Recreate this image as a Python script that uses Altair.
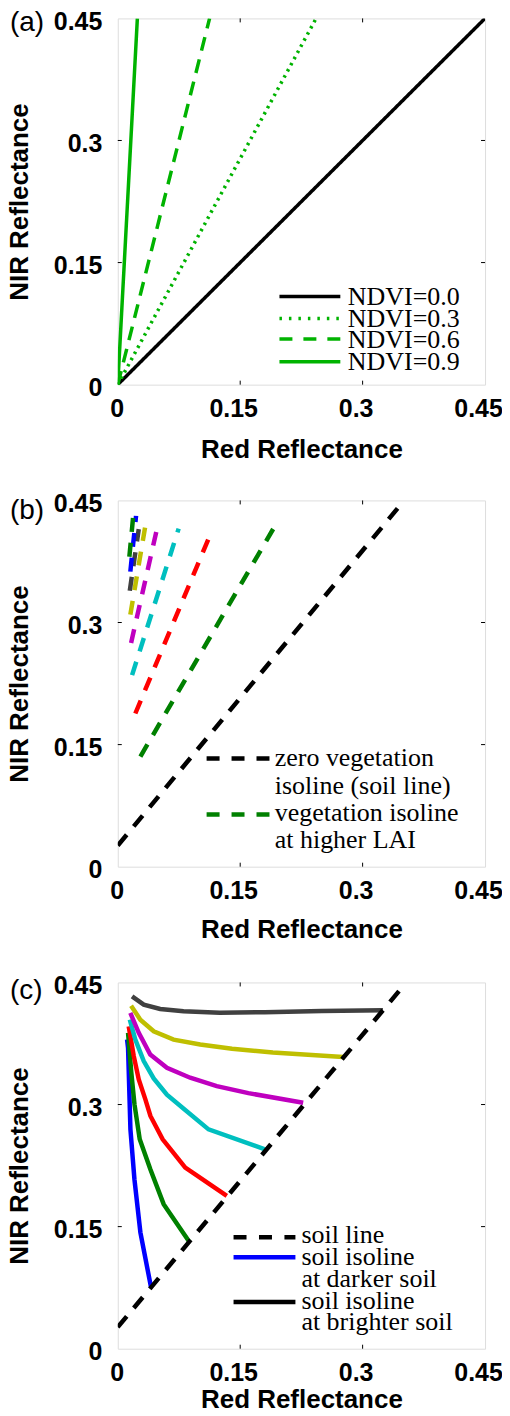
import altair as alt
import pandas as pd

# ---------------- data ----------------
TICK_VALUES = [0, 0.15, 0.3, 0.45]
INNER_TICKS = [0.15, 0.3]
X_TITLE = "Red Reflectance"
Y_TITLE = "NIR Reflectance"

# (a) NDVI isolines
NDVI_LABELS = ["NDVI=0.0", "NDVI=0.3", "NDVI=0.6", "NDVI=0.9"]
NDVI_RED = [[0.0, 0.45], [0.0, 0.243], [0.0, 0.1125], [0.0, 0.024]]
NDVI_NIR = [[0.0, 0.45], [0.0, 0.45], [0.0, 0.45], [0.0, 0.45]]

# (b) soil line and vegetation isolines
SOIL_B_RED = [0.0, 0.346]
SOIL_B_NIR = [0.026, 0.444]
VEG_IDS = ["v1", "v2", "v3", "v4", "v5", "v6", "v7", "v8"]
VEG_RED_START = [0.0277, 0.0215, 0.0175, 0.0163, 0.0154, 0.0147, 0.0154, 0.0142]
VEG_NIR_START = [0.1353, 0.1882, 0.2354, 0.2749, 0.3096, 0.3390, 0.3625, 0.3808]
VEG_RED_END = [0.1907, 0.1113, 0.0746, 0.0472, 0.0334, 0.0257, 0.0224, 0.0187]
VEG_NIR_END = [0.4154, 0.4032, 0.4154, 0.4114, 0.4166, 0.4147, 0.4310, 0.4285]
LEGEND_B = ["zero vegetation", "isoline (soil line)", "vegetation isoline", "at higher LAI"]

# (c) soil line and soil isolines
SOIL_C_RED = [0.0, 0.346]
SOIL_C_NIR = [0.0265, 0.441]
ISO_IDS = ["s1", "s2", "s3", "s4", "s5", "s6", "s7"]
ISO_RED = [
    [0.0114, 0.0126, 0.0155, 0.0204, 0.0277, 0.0407],
    [0.0126, 0.0165, 0.0205, 0.0269, 0.0399, 0.0562, 0.0880],
    [0.0134, 0.0196, 0.0257, 0.0338, 0.0400, 0.0550, 0.0827, 0.1336],
    [0.0147, 0.0215, 0.0318, 0.0440, 0.0602, 0.0830, 0.1112, 0.1804],
    [0.0154, 0.0257, 0.0398, 0.0602, 0.0887, 0.1213, 0.1600, 0.2272],
    [0.0163, 0.0276, 0.0440, 0.0684, 0.1010, 0.1400, 0.1900, 0.2761],
    [0.0175, 0.0318, 0.0520, 0.0806, 0.1250, 0.1800, 0.2500, 0.3249],
]
ISO_NIR = [
    [0.3798, 0.3696, 0.2695, 0.2083, 0.1430, 0.0756],
    [0.3880, 0.3400, 0.3000, 0.2573, 0.2205, 0.1776, 0.1307],
    [0.3961, 0.3594, 0.3308, 0.3063, 0.2860, 0.2573, 0.2225, 0.1878],
    [0.4043, 0.3798, 0.3533, 0.3320, 0.3120, 0.2930, 0.2695, 0.2450],
    [0.4125, 0.3880, 0.3614, 0.3451, 0.3329, 0.3226, 0.3140, 0.3022],
    [0.4215, 0.4043, 0.3900, 0.3798, 0.3737, 0.3685, 0.3640, 0.3585],
    [0.4329, 0.4227, 0.4174, 0.4145, 0.4128, 0.4135, 0.4150, 0.4157],
]
LEGEND_C = ["soil line", "soil isoline", "at darker soil", "soil isoline", "at brighter soil"]

# ---------------- style ----------------
W, H = 368, 367
GREEN_A = "#00B300"
DKGREEN = "#008000"
NDVI_COLORS = ["black", GREEN_A, GREEN_A, GREEN_A]
NDVI_DASHES = [[1, 0], [2.5, 4.5], [14, 9], [1, 0]]
VEG_COLORS = ["#008000", "#FF0000", "#00BFBF", "#BF00BF", "#BFBF00", "#404040", "#0000FF", "#008000"]
ISO_COLORS = ["#0000FF", "#008000", "#FF0000", "#00BFBF", "#BF00BF", "#BFBF00", "#404040"]
SANS = "Liberation Sans"
SERIF = "Liberation Serif"
LEG_SIZE = 26
ONE = pd.DataFrame({"k": [0]})


def make_axes(xtitle_y):
    xs = alt.Scale(domain=[0, 0.45], nice=False, zero=False)
    ys = alt.Scale(domain=[0, 0.45], nice=False, zero=False)
    common = dict(values=TICK_VALUES, format=".2~f", ticks=False, domain=False, grid=False,
                  labelFont=SANS, labelFontWeight="bold", labelFontSize=25, labelColor="black",
                  labelFlush=False, labelOverlap=False, labelBound=False,
                  titleFont=SANS, titleFontWeight="bold", titleFontSize=26, titleColor="black")
    xax = alt.Axis(title=X_TITLE, labelPadding=12,
                   labelOffset={"condition": {"test": "datum.value == 0", "value": -1}, "value": -7},
                   titleX=W / 2, titleY=xtitle_y, titleAlign="center", titleBaseline="alphabetic",
                   **common)
    yax = alt.Axis(title=Y_TITLE, labelPadding=16, labelOffset=3,
                   titleAngle=-90, titleX=-90, titleY=H / 2, titleAlign="center",
                   titleBaseline="alphabetic", **common)
    X = lambda: alt.X("x:Q", scale=xs, axis=xax)
    Y = lambda: alt.Y("y:Q", scale=ys, axis=yax)
    return X, Y


def txt(s, x, y, font=SERIF, size=LEG_SIZE, weight="normal"):
    return alt.Chart(pd.DataFrame({"t": [s]})).mark_text(
        font=font, fontSize=size, fontWeight=weight, align="left", baseline="alphabetic",
        color="black").encode(x=alt.value(x), y=alt.value(y), text="t:N")


def sample(x1, x2, y, color, width, dash=None):
    kw = dict(color=color, strokeWidth=width)
    if dash:
        kw["strokeDash"] = dash
    return alt.Chart(ONE).mark_rule(**kw).encode(x=alt.value(x1), x2=alt.value(x2), y=alt.value(y))


def tick_layers(X, Y):
    tx = pd.DataFrame({"x": INNER_TICKS})
    ty = pd.DataFrame({"y": INNER_TICKS})
    return [
        alt.Chart(tx).mark_rule(color="black", strokeWidth=1).encode(x=X(), y=alt.value(H), y2=alt.value(H - 4)),
        alt.Chart(tx).mark_rule(color="black", strokeWidth=1).encode(x=X(), y=alt.value(0), y2=alt.value(4)),
        alt.Chart(ty).mark_rule(color="black", strokeWidth=1).encode(y=Y(), x=alt.value(0), x2=alt.value(4)),
        alt.Chart(ty).mark_rule(color="black", strokeWidth=1).encode(y=Y(), x=alt.value(W - 4), x2=alt.value(W)),
    ]


# ---------------- panel (a) ----------------
Xa, Ya = make_axes(72.7)
rows = []
for lab, xs_, ys_ in zip(NDVI_LABELS, NDVI_RED, NDVI_NIR):
    for i, (xv, yv) in enumerate(zip(xs_, ys_)):
        rows.append({"s": lab, "x": xv, "y": yv, "i": i})
df_a = pd.DataFrame(rows)
lines_a = alt.Chart(df_a).mark_line(strokeWidth=3.5, clip=True).encode(
    x=Xa(), y=Ya(),
    color=alt.Color("s:N", scale=alt.Scale(domain=NDVI_LABELS, range=NDVI_COLORS), legend=None),
    strokeDash=alt.StrokeDash("s:N", scale=alt.Scale(domain=NDVI_LABELS, range=NDVI_DASHES), legend=None),
    order="i:Q",
)
leg_a_rows = [278.7, 300.7, 321.3, 344.0]
leg_a_dash = [None, [2.5, 7], [13, 11], None]
leg_a = []
for lab, yy, col, dsh in zip(NDVI_LABELS, leg_a_rows, NDVI_COLORS, leg_a_dash):
    leg_a.append(sample(162, 223, yy, col, 3.5, dsh))
    leg_a.append(txt(lab, 230.5, yy + 8.6))
panel_a = alt.layer(lines_a, *tick_layers(Xa, Ya), *leg_a,
                    txt("(a)", -108, 13, font=SANS, size=28)).properties(width=W, height=H)

# ---------------- panel (b) ----------------
Xb, Yb = make_axes(70.5)
soil_b = pd.DataFrame({"x": SOIL_B_RED, "y": SOIL_B_NIR, "i": [0, 1]})
rows = []
for vid, x0, y0, x1, y1 in zip(VEG_IDS, VEG_RED_START, VEG_NIR_START, VEG_RED_END, VEG_NIR_END):
    rows.append({"s": vid, "x": x0, "y": y0, "i": 0})
    rows.append({"s": vid, "x": x1, "y": y1, "i": 1})
df_b = pd.DataFrame(rows)
veg_b = alt.Chart(df_b).mark_line(strokeWidth=4.5, strokeDash=[14, 11], clip=True).encode(
    x=Xb(), y=Yb(),
    color=alt.Color("s:N", scale=alt.Scale(domain=VEG_IDS, range=VEG_COLORS), legend=None),
    order="i:Q",
)
soil_line_b = alt.Chart(soil_b).mark_line(strokeWidth=4.5, strokeDash=[14, 11], color="black", clip=True).encode(
    x=Xb(), y=Yb(), order="i:Q")
leg_b = [
    sample(89, 152, 258.7, "black", 4.5, [13, 12]),
    sample(89, 152, 314.7, DKGREEN, 4.5, [13, 12]),
    txt(LEGEND_B[0], 157.3, 266.0),
    txt(LEGEND_B[1], 157.3, 293.7),
    txt(LEGEND_B[2], 157.3, 321.3),
    txt(LEGEND_B[3], 157.3, 348.0),
]
panel_b = alt.layer(veg_b, soil_line_b, *tick_layers(Xb, Yb), *leg_b,
                    txt("(b)", -108, 18.7, font=SANS, size=28)).properties(width=W, height=H)

# ---------------- panel (c) ----------------
Xc, Yc = make_axes(59)
rows = []
for sid, xs_, ys_ in zip(ISO_IDS, ISO_RED, ISO_NIR):
    for i, (xv, yv) in enumerate(zip(xs_, ys_)):
        rows.append({"s": sid, "x": xv, "y": yv, "i": i})
df_c = pd.DataFrame(rows)
iso_c = alt.Chart(df_c).mark_line(strokeWidth=4.5, clip=True).encode(
    x=Xc(), y=Yc(),
    color=alt.Color("s:N", scale=alt.Scale(domain=ISO_IDS, range=ISO_COLORS), legend=None),
    order="i:Q",
)
soil_c = pd.DataFrame({"x": SOIL_C_RED, "y": SOIL_C_NIR, "i": [0, 1]})
soil_line_c = alt.Chart(soil_c).mark_line(strokeWidth=4.5, strokeDash=[14, 11], color="black", clip=True).encode(
    x=Xc(), y=Yc(), order="i:Q")
leg_c = [
    sample(116, 178, 255.3, "black", 4.5, [13, 12.5]),
    sample(116, 178, 275.3, "#0000FF", 4.5),
    sample(116, 178, 320.3, "black", 4.5),
    txt(LEGEND_C[0], 184, 261.0),
    txt(LEGEND_C[1], 184, 282.7),
    txt(LEGEND_C[2], 184, 305.0),
    txt(LEGEND_C[3], 184, 327.0),
    txt(LEGEND_C[4], 184, 348.7),
]
panel_c = alt.layer(iso_c, soil_line_c, *tick_layers(Xc, Yc), *leg_c,
                    txt("(c)", -108, 17, font=SANS, size=28)).properties(width=W, height=H)

chart = alt.vconcat(panel_a, panel_b, panel_c, spacing=116, bounds="flush").resolve_scale(
    color="independent", strokeDash="independent"
).properties(
    padding={"left": -2, "top": -1, "right": -1, "bottom": -5}
).configure_view(stroke="black", strokeWidth=1).configure(background="white")

chart.save("out.html", embed_options={"renderer": "svg", "actions": False})
